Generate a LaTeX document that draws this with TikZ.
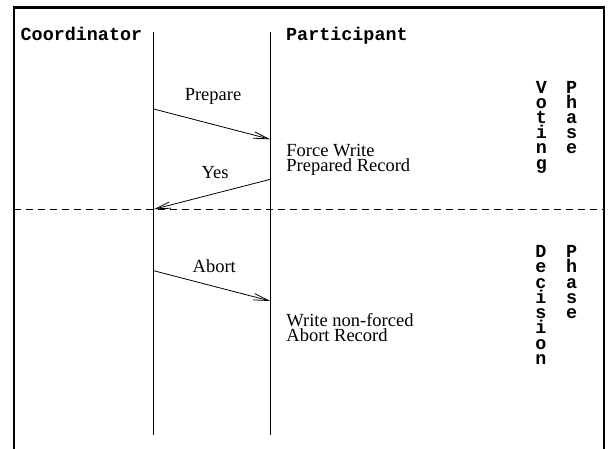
\documentclass[tikz,border=0pt]{standalone}
\usepackage{fontspec}
\setmainfont{Liberation Serif}
\setmonofont{Liberation Mono}
\usetikzlibrary{arrows.meta}
\begin{document}
\begin{tikzpicture}[x=1pt,y=-1pt,
  frame/.style={line width=2.4pt},
  lifeline/.style={line width=0.8pt},
  msg/.style={line width=0.8pt,-{Straight Barb[length=15pt,width=6.5pt,line width=0.8pt]}},
  phaseline/.style={line width=0.8pt,dash pattern=on 7pt off 5pt},
  serif/.style={font=\fontsize{18.5}{15}\selectfont,inner sep=0pt},
  mono/.style={font=\ttfamily\bfseries\fontsize{18.4}{15.24}\selectfont,inner sep=0pt},
  block/.style={serif,align=left,anchor=north west},
  vlabel/.style={mono,align=center,anchor=north}]
\clip (0,0) rectangle (611,448);
\fill[white] (0,0) rectangle (611,448);
% frame
\coordinate (fl) at (14,209.3);
\coordinate (fr) at (604,209.3);
\draw[frame] (14,7.5) rectangle (604,470);
% lifelines
\coordinate (ctop) at (153.7,32);
\coordinate (cbot) at (153.7,435);
\coordinate (ptop) at (270.3,32);
\coordinate (pbot) at (270.3,435);
\draw[lifeline] (ctop) -- (cbot);
\draw[lifeline] (ptop) -- (pbot);
% phase separator
\draw[phaseline] (fl) -- (fr);
% headers
\node[mono,anchor=base west] (coord) at (20.5,40) {Coordinator};
\node[mono,anchor=base west] (part) at (286,40) {Participant};
% messages
\coordinate (c1) at (153.7,109);
\coordinate (p1) at (270.3,139.3);
\coordinate (p2) at (270.3,179.3);
\coordinate (c2) at (153.7,209.3);
\coordinate (c3) at (153.7,270.7);
\coordinate (p3) at (270.3,301);
\draw[msg] (c1) -- (p1);
\draw[msg] (p2) -- (c2);
\draw[msg] (c3) -- (p3);
\node[serif,anchor=base] (prep) at (213,100) {Prepare};
\node[serif,anchor=base] (yes) at (215,178.3) {Yes};
\node[serif,anchor=base] (abort) at (214.3,272.3) {Abort};
% participant actions (top of node = first baseline - ascender)
\node[block] (fw) at (286.2,143.6) {Force Write\\Prepared Record};
\node[block] (wn) at (286.2,313.6) {Write non-forced\\Abort Record};
% vertical phase labels
\node[vlabel] (voting) at (541.5,80.7) {V\\o\\t\\i\\n\\g};
\node[vlabel] (vphase) at (571.7,80.7) {P\\h\\a\\s\\e};
\node[vlabel] (decision) at (541,245.3) {D\\e\\c\\i\\s\\i\\o\\n};
\node[vlabel] (dphase) at (571.7,245.3) {P\\h\\a\\s\\e};
\end{tikzpicture}
\end{document}
